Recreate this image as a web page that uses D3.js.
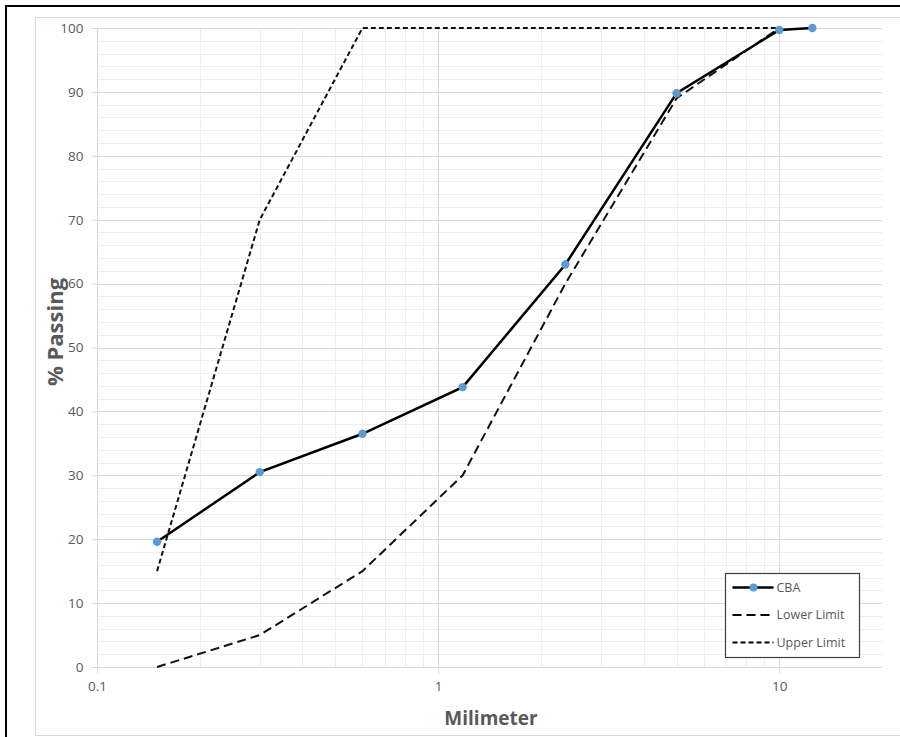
<!DOCTYPE html>
<html>
<head>
<meta charset="utf-8">
<script src="https://cdn.jsdelivr.net/npm/d3@7"></script>
<style>
  body { margin: 0; background: #fff; }
  svg { display: block; font-family: "Open Sans", "Noto Sans", sans-serif; }
  .grid-minor { stroke: #eeeeee; stroke-width: 1; }
  .grid-major { stroke: #d9d9d9; stroke-width: 1; }
  .tick-label { fill: #595959; font-size: 13.5px; }
  .axis-title { fill: #595959; font-size: 19px; font-weight: bold; }
  .legend-text { fill: #595959; font-size: 12.5px; }
</style>
</head>
<body>
<svg id="chart" width="900" height="737"></svg>
<script>
// sieve sizes (mm) and % passing
const sizes = [0.15, 0.3, 0.6, 1.18, 2.36, 5, 10, 12.5];
const cba = [19.6, 30.5, 36.5, 43.8, 63, 89.8, 99.7, 100];
const lowerSizes = [0.15, 0.3, 0.6, 1.18, 2.36, 5, 10];
const lowerLimit = [0, 5, 15, 30, 60, 89, 100];
const upperSizes = [0.15, 0.3, 0.6, 10];
const upperLimit = [15, 70, 100, 100];
const xTicks = [0.1, 1, 10];
const yTicks = [0, 10, 20, 30, 40, 50, 60, 70, 80, 90, 100];

const svg = d3.select("#chart");
const plotLeft = 97, plotRight = 882, plotTop = 28, plotBottom = 667;

let x = d3.scaleLog().domain([0.1, 20]).range([plotLeft, plotRight]);
let y = d3.scaleLinear().domain([0, 100]).range([plotBottom, plotTop]);

// outer frames
svg.append("rect").attr("x", 35.5).attr("y", 17.5).attr("width", 880).attr("height", 718)
    .attr("fill", "none").attr("stroke", "#d9d9d9");
svg.append("rect").attr("x", 6).attr("y", 6).attr("width", 910).attr("height", 740)
    .attr("fill", "none").attr("stroke", "#000").attr("stroke-width", 2);

// minor gridlines
let minorX = [];
[0.1, 1, 10].forEach(function (d) {
    for (let k = 2; k <= 9; k++) { if (d * k < 20) minorX.push(d * k); }
});
let g = svg.append("g");
g.selectAll(".mx").data(minorX).enter().append("line").attr("class", "grid-minor")
    .attr("x1", d => Math.round(x(d)) + 0.5).attr("x2", d => Math.round(x(d)) + 0.5)
    .attr("y1", plotTop).attr("y2", plotBottom);
let minorY = d3.range(0, 101, 2).filter(d => d % 10 !== 0);
g.selectAll(".my").data(minorY).enter().append("line").attr("class", "grid-minor")
    .attr("x1", plotLeft).attr("x2", plotRight)
    .attr("y1", d => Math.round(y(d)) + 0.5).attr("y2", d => Math.round(y(d)) + 0.5);

// major gridlines
g.selectAll(".My").data(yTicks).enter().append("line").attr("class", "grid-major")
    .attr("x1", plotLeft).attr("x2", plotRight)
    .attr("y1", d => Math.round(y(d)) + 0.5).attr("y2", d => Math.round(y(d)) + 0.5);
g.selectAll(".Mx").data(xTicks).enter().append("line").attr("class", "grid-major")
    .attr("x1", d => Math.round(x(d)) + 0.5).attr("x2", d => Math.round(x(d)) + 0.5)
    .attr("y1", plotTop).attr("y2", plotBottom);

// axes
let xAxis = d3.axisBottom(x).tickValues(xTicks).tickFormat(d => String(d)).tickSize(6).tickPadding(8);
let yAxis = d3.axisLeft(y).tickValues(yTicks).tickSize(6).tickPadding(8);
let gx = svg.append("g").attr("transform", "translate(0," + (plotBottom + 0.5) + ")").call(xAxis);
let gy = svg.append("g").attr("transform", "translate(" + (plotLeft + 0.5) + ",0)").call(yAxis);
[gx, gy].forEach(function (a) {
    a.attr("font-family", null).attr("font-size", null);
    a.select(".domain").attr("stroke", "#d9d9d9");
    a.selectAll(".tick line").attr("stroke", "#d9d9d9");
    a.selectAll(".tick text").attr("class", "tick-label");
});
gx.select(".domain").attr("d", "M" + plotLeft + ",0H" + plotRight);
gy.select(".domain").attr("d", "M0," + plotTop + "V" + plotBottom);

svg.append("text").attr("class", "axis-title").attr("x", 491).attr("y", 725)
    .attr("text-anchor", "middle").text("Milimeter");
svg.append("text").attr("class", "axis-title").style("font-size", "22px")
    .attr("transform", "translate(63,332) rotate(-90)")
    .attr("text-anchor", "middle").text("% Passing");

// series
let line = d3.line().x(d => x(d[0])).y(d => y(d[1]));
svg.append("path").datum(d3.zip(lowerSizes, lowerLimit)).attr("d", line)
    .attr("fill", "none").attr("stroke", "#111").attr("stroke-width", 2)
    .attr("stroke-dasharray", "9,5");
svg.append("path").datum(d3.zip(upperSizes, upperLimit)).attr("d", line)
    .attr("fill", "none").attr("stroke", "#111").attr("stroke-width", 2)
    .attr("stroke-dasharray", "5,3");
svg.append("path").datum(d3.zip(sizes, cba)).attr("d", line)
    .attr("fill", "none").attr("stroke", "#000").attr("stroke-width", 2.5);
svg.selectAll(".pt").data(d3.zip(sizes, cba)).enter().append("circle")
    .attr("cx", d => x(d[0])).attr("cy", d => y(d[1])).attr("r", 4.2)
    .attr("fill", "#5b9bd5");

// legend
let lg = svg.append("g").attr("transform", "translate(725.5,573.5)");
lg.append("rect").attr("width", 134).attr("height", 84).attr("fill", "#fff")
    .attr("stroke", "#404040").attr("stroke-width", 1.2);
let items = [
    { name: "CBA", dash: null, width: 2.5 },
    { name: "Lower Limit", dash: "9,5", width: 2 },
    { name: "Upper Limit", dash: "5,3", width: 2 }
];
items.forEach(function (d, i) {
    let yy = 14 + i * 27.5;
    lg.append("line").attr("x1", 7).attr("x2", 48).attr("y1", yy).attr("y2", yy)
        .attr("stroke", "#000").attr("stroke-width", d.width)
        .attr("stroke-dasharray", d.dash);
    if (i === 0) lg.append("circle").attr("cx", 28).attr("cy", yy).attr("r", 4).attr("fill", "#5b9bd5");
    lg.append("text").attr("class", "legend-text").attr("x", 51).attr("y", yy)
        .attr("dy", "0.35em").text(d.name);
});
</script>
</body>
</html>
